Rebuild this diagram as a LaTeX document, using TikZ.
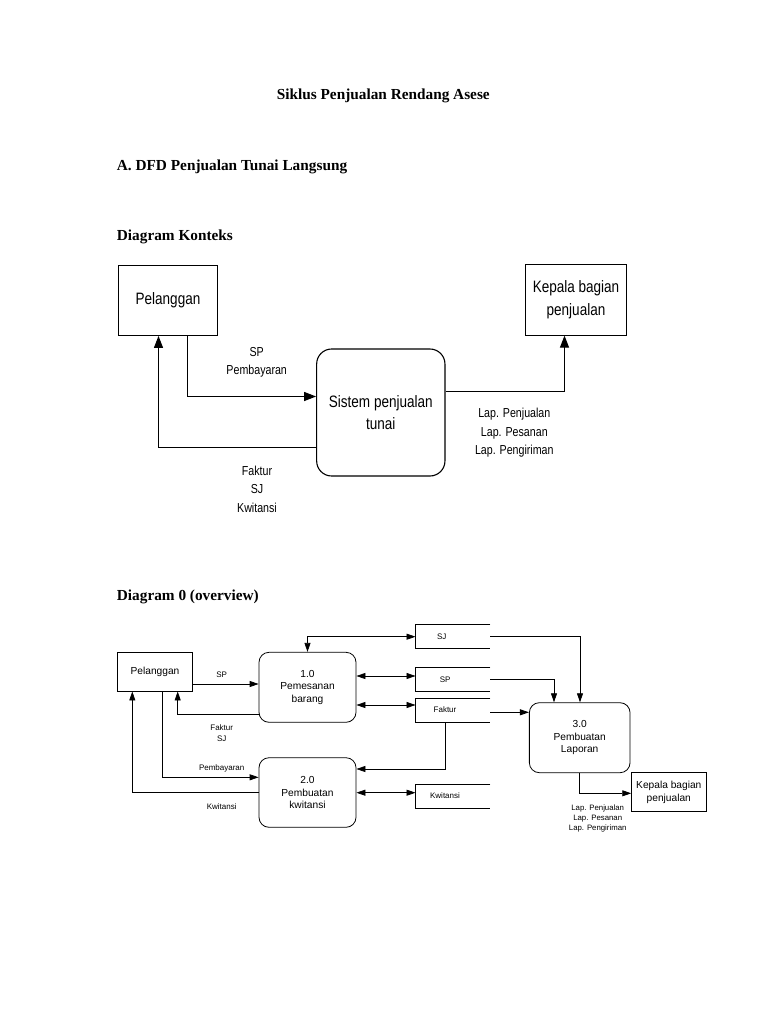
\documentclass[tikz,border=0pt]{standalone}
\usepackage{fontspec}
\setmainfont{Liberation Serif}
\newfontfamily\narrowsans[FakeStretch=0.82]{Liberation Sans}
\newfontfamily\arialsans{Liberation Sans}
\usetikzlibrary{arrows.meta}
\begin{document}
\begin{tikzpicture}[x=1pt,y=-1pt,
  heading/.style={font=\fontsize{15.3}{18}\selectfont\bfseries, inner sep=0pt},
  ctxbox/.style={draw, line width=1.1pt, inner sep=0pt, align=center,
     font=\narrowsans\fontsize{16.5}{22.7}\selectfont},
  ctxround/.style={ctxbox, rounded corners=15pt},
  ctxlabel/.style={inner sep=0pt, align=center, font=\narrowsans\fontsize{13}{18.7}\selectfont},
  arrc/.style={-{Triangle[length=12pt,width=9pt]}, line width=1.1pt},
  box0/.style={draw, line width=0.8pt, inner sep=0pt, align=center,
     font=\arialsans\fontsize{10.2}{12.4}\selectfont},
  round0/.style={box0, rounded corners=10pt},
  store0/.style={draw=none, inner sep=0pt, minimum width=74.3pt},
  storeside/.style={line width=0.8pt},
  lab0/.style={inner sep=0pt, align=center, font=\arialsans\fontsize{8}{11.3}\selectfont},
  labsmall/.style={inner sep=0pt, align=center, font=\arialsans\fontsize{7.8}{10}\selectfont},
  arr0/.style={-{Triangle[length=9pt,width=6pt]}, line width=0.8pt},
  dbl0/.style={{Triangle[length=9pt,width=6pt]}-{Triangle[length=9pt,width=6pt]}, line width=0.8pt}
]
\useasboundingbox[fill=white] (0,0) rectangle (768,1024);

% Headings
\node[heading, anchor=base] (title) at (383.3,100) {Siklus Penjualan Rendang Asese};
\node[heading, anchor=base west] (hA) at (116.7,170.7) {A. DFD Penjualan Tunai Langsung};
\node[heading, anchor=base west] (hK) at (116.7,240.7) {Diagram Konteks};
\node[heading, anchor=base west] (h0) at (116.7,600) {Diagram 0 (overview)};

% ---------- Context diagram ----------
\node[ctxbox, minimum width=99pt, minimum height=70.3pt] (P1) at (168,300.2) {Pelanggan};
\node[ctxbox, minimum width=101pt, minimum height=70.7pt] (K1) at (576,299.7) {Kepala bagian\\penjualan};
\node[ctxround, minimum width=128.3pt, minimum height=127pt] (S1) at (380.8,412.5) {Sistem penjualan\\tunai};

\coordinate (c1) at (187.5,396.5);
\coordinate (c2) at (158.5,447.5);
\coordinate (c3) at (564.5,391.5);
\draw[arrc] (P1.south -| c1) -- (c1) -- (S1.west |- c1);
\draw[arrc] (S1.west |- c2) -- (c2) -- (P1.south -| c2);
\draw[arrc] (S1.east |- c3) -- (c3) -- (K1.south -| c3);

\node[ctxlabel] (l1) at (256.7,362.2) {SP\\Pembayaran};
\node[ctxlabel] (l2) at (257,489.2) {Faktur\\SJ\\Kwitansi};
\node[ctxlabel] (l3) at (514.3,432.8) {Lap. Penjualan\\Lap. Pesanan\\Lap. Pengiriman};

% ---------- Diagram 0 ----------
\node[box0, minimum width=75.4pt, minimum height=38.7pt] (P2) at (155,671.7) {Pelanggan};
\node[round0, minimum width=97pt, minimum height=70pt] (PR1) at (307.5,687.3) {1.0\\Pemesanan\\barang};
\node[round0, minimum width=97pt, minimum height=69.6pt] (PR2) at (307.5,792.5) {2.0\\Pembuatan\\kwitansi};
\node[round0, minimum width=100.7pt, minimum height=70pt] (PR3) at (579.7,737.7) {3.0\\Pembuatan\\Laporan};
\node[box0, minimum width=74.3pt, minimum height=39pt] (K2) at (668.8,792.2) {Kepala bagian\\penjualan};

% data stores
\node[store0, minimum height=23.3pt] (sj) at (452.9,636.7) {};
\node[store0, minimum height=23.3pt] (sp) at (452.9,679.3) {};
\node[store0, minimum height=23.3pt] (fk) at (452.9,710.7) {};
\node[store0, minimum height=24pt] (kw) at (452.9,796.3) {};
\foreach \s in {sj,sp,fk,kw}
  \draw[storeside] (\s.north east) -- (\s.north west) -- (\s.south west) -- (\s.south east);
\node[lab0] (tsj) at (441.7,636.7) {SJ};
\node[lab0] (tsp) at (445.2,679.3) {SP};
\node[lab0] (tfk) at (445,710) {Faktur};
\node[lab0] (tkw) at (445,796) {Kwitansi};

% connectors
\coordinate (d1) at (PR1.north |- sj.west);
\draw[dbl0] (sj.west) -- (d1) -- (PR1.north);
\coordinate (d2) at (0,684);
\draw[arr0] (P2.east |- d2) -- (PR1.west |- d2);
\coordinate (d3) at (177.7,714);
\draw[arr0] (PR1.west |- d3) -- (d3) -- (P2.south -| d3);
\coordinate (d4) at (0,676);
\draw[dbl0] (PR1.east |- d4) -- (sp.west |- d4);
\coordinate (d5) at (0,705);
\draw[dbl0] (PR1.east |- d5) -- (fk.west |- d5);
\coordinate (d6) at (162.3,777.3);
\draw[arr0] (P2.south -| d6) -- (d6) -- (PR2.west |- d6);
\coordinate (d7) at (132.3,792.3);
\draw[arr0] (PR2.west |- d7) -- (d7) -- (P2.south -| d7);
\coordinate (d8) at (445.7,769);
\draw[arr0] (fk.south -| d8) -- (d8) -- (PR2.east |- d8);
\coordinate (d9) at (0,792.7);
\draw[dbl0] (PR2.east |- d9) -- (kw.west |- d9);
\coordinate (d10) at (580,636.7);
\draw[arr0] (sj.east) -- (d10) -- (PR3.north -| d10);
\coordinate (d11) at (554,679.3);
\draw[arr0] (sp.east) -- (d11) -- (PR3.north -| d11);
\coordinate (d12) at (0,712.3);
\draw[arr0] (fk.east |- d12) -- (PR3.west |- d12);
\coordinate (d13) at (579.3,793.3);
\draw[arr0] (PR3.south -| d13) -- (d13) -- (K2.west |- d13);

% labels
\node[lab0] (m1) at (221.7,674.3) {SP};
\node[lab0] (m2) at (221.7,733.3) {Faktur\\SJ};
\node[lab0] (m3) at (221.7,768.3) {Pembayaran};
\node[lab0] (m4) at (221.7,806.7) {Kwitansi};
\node[labsmall] (m5) at (597.7,818.1) {Lap. Penjualan\\Lap. Pesanan\\Lap. Pengiriman};
\end{tikzpicture}
\end{document}
